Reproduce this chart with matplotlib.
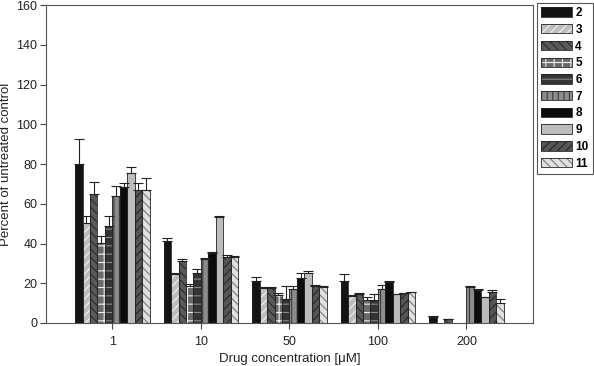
import numpy as np
import matplotlib
matplotlib.use("Agg")
import matplotlib.pyplot as plt
from matplotlib.patches import Patch
from matplotlib.legend_handler import HandlerTuple

plt.rcParams['font.family'] = ['Liberation Sans', 'DejaVu Sans']
plt.rcParams['hatch.linewidth'] = 0.8

# concentraciones (grupos en el eje x)
concentraciones = ['1', '10', '50', '100', '200']
compuestos = ['2', '3', '4', '5', '6', '7', '8', '9', '10', '11']

# valores medios por compuesto (uno por concentracion)
v2 = [80, 41.5, 21.3, 21.3, 3.0]
v3 = [50.5, 24.7, 17.8, 13.8, 0]
v4 = [64.8, 31.4, 17.8, 14.6, 1.9]
v5 = [40.1, 18.8, 14.1, 11.6, 0]
v6 = [48.9, 25.0, 12.1, 11.6, 0]
v7 = [64.1, 32.4, 17.1, 17.0, 18.0]
v8 = [68.7, 35.4, 22.8, 20.8, 16.6]
v9 = [75.7, 53.2, 25.0, 14.4, 13.0]
v10 = [67.0, 33.4, 18.8, 15.0, 15.8]
v11 = [67.0, 33.0, 18.3, 15.5, 10.2]

# error (solo hacia arriba)
e2 = [12.7, 1.5, 1.7, 3.4, 0.3]
e3 = [3.5, 0.3, 0.2, 0.3, 0]
e4 = [6.1, 0.7, 0.2, 0.4, 0.3]
e5 = [3.7, 0.8, 1.2, 1.7, 0]
e6 = [5.1, 2.2, 6.5, 3.0, 0]
e7 = [5.1, 0.2, 1.7, 2.1, 0.5]
e8 = [2.0, 0.2, 2.2, 0.4, 0.4]
e9 = [2.7, 0.5, 1.2, 0.2, 0.3]
e10 = [3.4, 0.8, 0.2, 0.2, 0.7]
e11 = [6.2, 0.7, 0.3, 0.3, 2.0]

valores = [v2, v3, v4, v5, v6, v7, v8, v9, v10, v11]
errores = [e2, e3, e4, e5, e6, e7, e8, e9, e10, e11]

# (relleno, color del rayado, rayado)
estilos = [
    ('#141414', '#141414', None),
    ('#bdbdbd', '#f2f2f2', '////'),
    ('#5a5a5a', '#2a2a2a', '\\\\\\\\'),
    ('#6a6a6a', '#f0f0f0', '++'),
    ('#333333', '#8a8a8a', '--'),
    ('#8c8c8c', '#3a3a3a', '|||'),
    ('#0c0c0c', '#0c0c0c', None),
    ('#bcbcbc', '#bcbcbc', None),
    ('#555555', '#262626', '////'),
    ('#e0e0e0', '#7a7a7a', '\\\\\\\\'),
]

fig = plt.figure(figsize=(5.94, 3.66), dpi=100)
ax = fig.add_axes([0.0774, 0.1175, 0.8196, 0.8685])

x = np.arange(len(concentraciones))
ancho = 0.084
handles = []
for i, (vals, errs) in enumerate(zip(valores, errores)):
    fc, hc, hatch = estilos[i]
    pos = x - 0.42 + ancho * (i + 0.5)
    vals = np.array(vals)
    errs = np.array(errs)
    mask = vals > 0   # en 200 faltan algunos compuestos
    ax.bar(pos[mask], vals[mask], ancho, color=fc, edgecolor=hc, hatch=hatch,
           linewidth=0, zorder=2)
    ax.bar(pos[mask], vals[mask], ancho, facecolor='none', edgecolor='#222222',
           linewidth=0.6, zorder=3)
    ax.errorbar(pos[mask], vals[mask], yerr=[np.zeros(mask.sum()), errs[mask]],
                fmt='none', ecolor='#222222', elinewidth=0.8, capsize=3.5,
                capthick=0.8, zorder=4)
    p1 = Patch(facecolor=fc, edgecolor=hc, hatch=hatch, linewidth=0)
    p2 = Patch(facecolor='none', edgecolor='#222222', linewidth=0.6)
    handles.append((p1, p2))

ax.set_xlim(-0.75, 4.75)
ax.set_ylim(0, 160)
ax.set_yticks(np.arange(0, 161, 20))
ax.set_xticks(x)
ax.set_xticklabels(concentraciones)
ax.tick_params(labelsize=9, length=4.3, width=0.8, pad=2, color='#444444',
               labelcolor='#222222')
ax.tick_params(axis='x', pad=5)
for s in ax.spines.values():
    s.set_color('#555555')
    s.set_linewidth(0.8)
ax.set_xlabel('Drug concentration [\u03bcM]', fontsize=9.5, labelpad=4, color='#222222')
ax.set_ylabel('Percent of untreated control', fontsize=9.5, labelpad=3, color='#222222')

leg = fig.legend(handles, compuestos, loc='upper left',
                 bbox_to_anchor=(537 / 594, 1 - 3 / 366),
                 handler_map={tuple: HandlerTuple(ndivide=1)},
                 prop={'size': 8.5, 'weight': 'bold'}, handlelength=2.6,
                 handleheight=0.85, labelspacing=0.4, borderpad=0.35,
                 handletextpad=0.3, borderaxespad=0, fancybox=False,
                 edgecolor='#555555', framealpha=1)
leg.get_frame().set_linewidth(0.8)

fig.savefig('out.png', dpi=100)
